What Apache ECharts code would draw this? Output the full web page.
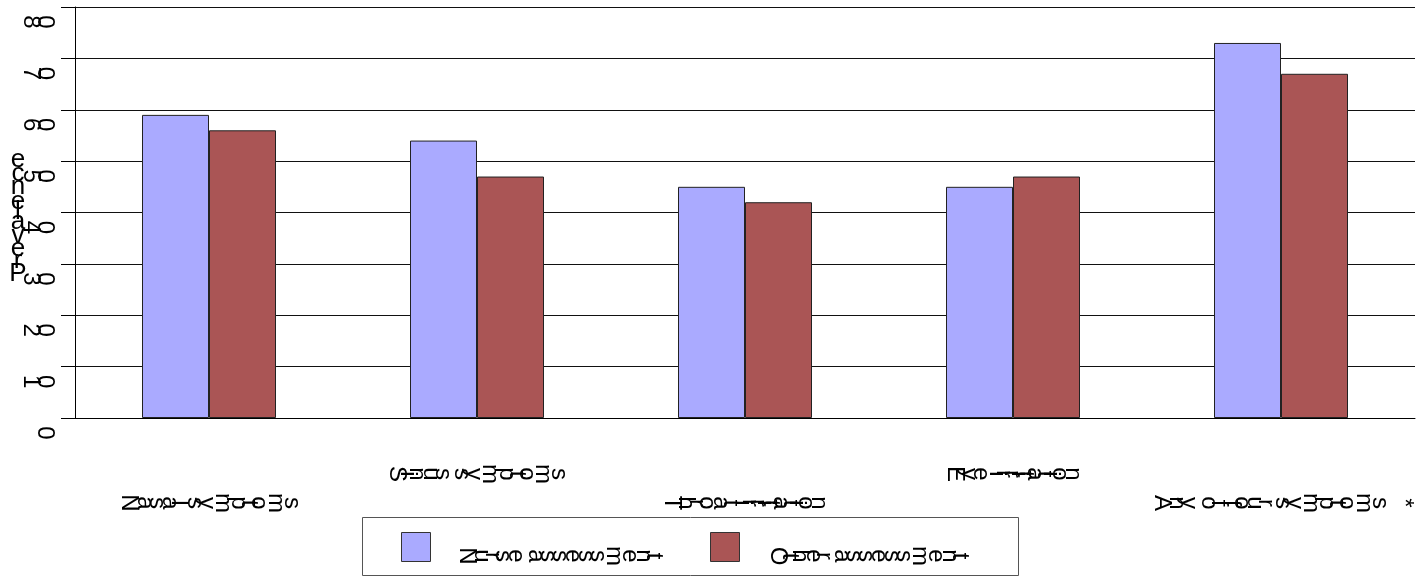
<!DOCTYPE html>
<html>
<head>
<meta charset="utf-8">
<script src="https://cdn.jsdelivr.net/npm/echarts@6/dist/echarts.min.js"></script>
<style>
  html, body { margin: 0; padding: 0; background: #fff; }
  #chart { width: 1421px; height: 580px; }
</style>
</head>
<body>
<div id="chart"></div>
<script>
// ---- data ----
const categories = ['Nasal symptoms', 'Sinus symptoms', 'Throat irritation', 'Eye irritation', 'Any of four symptoms  *'];
const seriesNames = ['Nurse assessment', 'Other assessment'];
const nurseValues = [59, 54, 45, 45, 73];
const otherValues = [56, 47, 42, 47, 67];
const yTicks = [0, 10, 20, 30, 40, 50, 60, 70, 80];
const yTitle = 'Prevalence';

// ---- styling ----
const colors = ['#aaaaff', '#aa5555'];
const FONT_FAMILY = "'Liberation Sans', Arial, sans-serif";
const FONT = '24px ' + FONT_FAMILY;
const TITLE_FONT = '26px ' + FONT_FAMILY;

const chart = echarts.init(document.getElementById('chart'), null, { renderer: 'canvas' });

chart.setOption({
  animation: false,
  backgroundColor: '#fff',
  grid: { left: 75, right: 6, top: 7, bottom: 162, containLabel: false },
  xAxis: {
    type: 'category',
    data: categories,
    axisLine: { lineStyle: { color: '#000', width: 1 } },
    axisTick: { alignWithLabel: true, length: 45, lineStyle: { color: '#333', width: 1 } },
    axisLabel: { show: false }
  },
  yAxis: {
    type: 'value',
    min: 0, max: 80, interval: 10,
    axisLine: { show: true, lineStyle: { color: '#000', width: 1 } },
    axisTick: { show: true, length: 14, lineStyle: { color: '#000', width: 1 } },
    axisLabel: { show: false },
    splitLine: { lineStyle: { color: '#111', width: 1 } }
  },
  series: [
    {
      name: seriesNames[0], type: 'bar', data: nurseValues,
      barGap: '0%', barCategoryGap: '50%',
      itemStyle: { color: colors[0], borderColor: '#222', borderWidth: 1 }
    },
    {
      name: seriesNames[1], type: 'bar', data: otherValues,
      barGap: '0%', barCategoryGap: '50%',
      itemStyle: { color: colors[1], borderColor: '#222', borderWidth: 1 }
    }
  ]
});

// ---- text: each glyph laid out along the run and turned a quarter turn ----
const measureCtx = document.createElement('canvas').getContext('2d');

function glyphWidths(str, font) {
  measureCtx.font = font;
  return Array.from(str).map(c => measureCtx.measureText(c).width);
}

// horizontal run, every glyph turned clockwise about its own centre
function turnedRun(str, anchorX, centerY, align) {
  const chars = Array.from(str);
  const widths = glyphWidths(str, FONT);
  const total = widths.reduce((a, b) => a + b, 0);
  let x = align === 'center' ? anchorX - total / 2 : align === 'right' ? anchorX - total : anchorX;
  const out = [];
  chars.forEach((c, i) => {
    const cx = x + widths[i] / 2;
    x += widths[i];
    if (c.trim() === '') return;
    out.push({
      type: 'text', x: cx, y: centerY, rotation: -Math.PI / 2, silent: true,
      style: { text: c, font: FONT, fill: '#000', align: 'center', verticalAlign: 'middle' }
    });
  });
  return out;
}

// vertical run read bottom-to-top, glyphs kept upright
function uprightColumn(str, centerX, centerY) {
  const chars = Array.from(str);
  const widths = glyphWidths(str, TITLE_FONT);
  const total = widths.reduce((a, b) => a + b, 0);
  let y = centerY + total / 2;
  const out = [];
  chars.forEach((c, i) => {
    const cy = y - widths[i] / 2;
    y -= widths[i];
    if (c.trim() === '') return;
    out.push({
      type: 'text', x: centerX, y: cy, silent: true,
      style: { text: c, font: TITLE_FONT, fill: '#000', align: 'center', verticalAlign: 'middle' }
    });
  });
  return out;
}

function drawTexts() {
  const elements = [];
  const baseY = chart.convertToPixel({ yAxisIndex: 0 }, 0);
  const topY = chart.convertToPixel({ yAxisIndex: 0 }, yTicks[yTicks.length - 1]);

  // y tick labels
  yTicks.forEach(v => {
    const py = chart.convertToPixel({ yAxisIndex: 0 }, v);
    elements.push(...turnedRun(String(v), 51, py + 15, 'right'));
  });

  // y axis title
  elements.push(...uprightColumn(yTitle, 18, (baseY + topY) / 2 + 5));

  // category labels, alternating between two rows
  categories.forEach((cat, i) => {
    const px = chart.convertToPixel({ xAxisIndex: 0 }, cat);
    const rowY = i % 2 === 0 ? baseY + 85 : baseY + 56;
    elements.push(...turnedRun(cat, px, rowY, 'center'));
  });

  // legend
  elements.push({
    type: 'rect', shape: { x: 362.5, y: 517.5, width: 656, height: 58 },
    style: { fill: '#fff', stroke: '#555', lineWidth: 1 }, silent: true
  });
  const legendItems = [
    { square: 401, text: 458 },
    { square: 710, text: 768 }
  ];
  seriesNames.forEach((name, i) => {
    elements.push({
      type: 'rect', shape: { x: legendItems[i].square + 0.5, y: 532.5, width: 29, height: 29 },
      style: { fill: colors[i], stroke: '#333', lineWidth: 1 }, silent: true
    });
    elements.push(...turnedRun(name, legendItems[i].text, 556, 'left'));
  });

  chart.setOption({ graphic: { elements: elements } });
}

drawTexts();
</script>
</body>
</html>
